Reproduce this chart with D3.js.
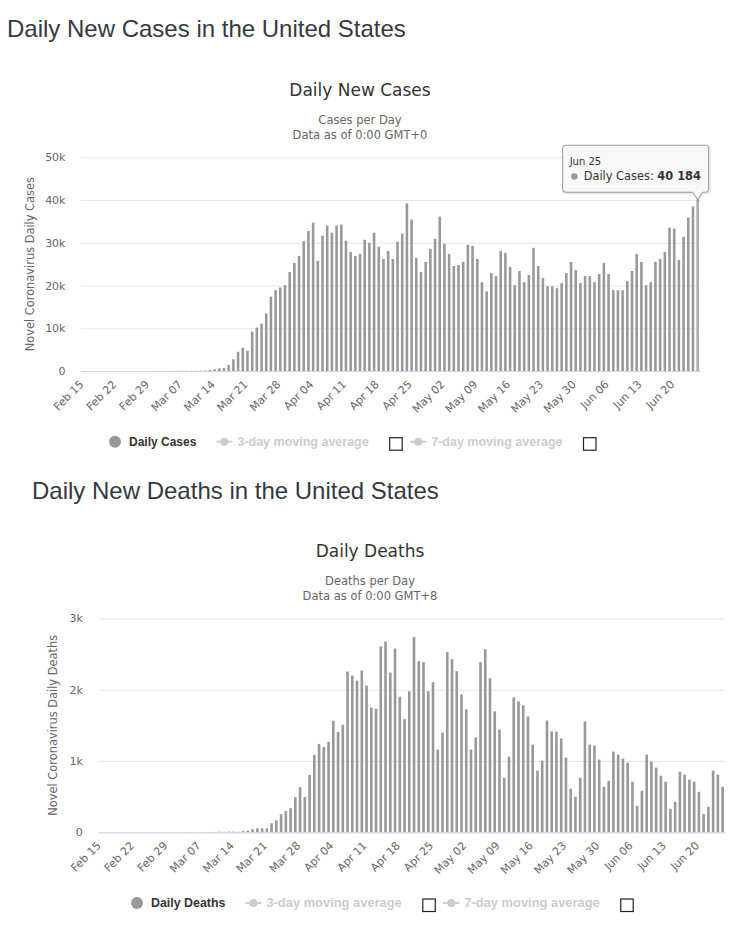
<!DOCTYPE html>
<html>
<head>
<meta charset="utf-8">
<script src="https://cdn.jsdelivr.net/npm/d3@7"></script>
<style>
body { margin: 0; background: #fff; }
svg { display: block; }
</style>
</head>
<body>
<svg id="svg" width="729" height="942"></svg>
<script>
var days = [
  "Feb 15","Feb 16","Feb 17","Feb 18","Feb 19","Feb 20","Feb 21","Feb 22","Feb 23","Feb 24","Feb 25","Feb 26","Feb 27","Feb 28","Feb 29",
  "Mar 01","Mar 02","Mar 03","Mar 04","Mar 05","Mar 06","Mar 07","Mar 08","Mar 09","Mar 10","Mar 11","Mar 12","Mar 13","Mar 14","Mar 15","Mar 16",
  "Mar 17","Mar 18","Mar 19","Mar 20","Mar 21","Mar 22","Mar 23","Mar 24","Mar 25","Mar 26","Mar 27","Mar 28","Mar 29","Mar 30","Mar 31",
  "Apr 01","Apr 02","Apr 03","Apr 04","Apr 05","Apr 06","Apr 07","Apr 08","Apr 09","Apr 10","Apr 11","Apr 12","Apr 13","Apr 14","Apr 15",
  "Apr 16","Apr 17","Apr 18","Apr 19","Apr 20","Apr 21","Apr 22","Apr 23","Apr 24","Apr 25","Apr 26","Apr 27","Apr 28","Apr 29","Apr 30",
  "May 01","May 02","May 03","May 04","May 05","May 06","May 07","May 08","May 09","May 10","May 11","May 12","May 13","May 14","May 15","May 16",
  "May 17","May 18","May 19","May 20","May 21","May 22","May 23","May 24","May 25","May 26","May 27","May 28","May 29","May 30","May 31",
  "Jun 01","Jun 02","Jun 03","Jun 04","Jun 05","Jun 06","Jun 07","Jun 08","Jun 09","Jun 10","Jun 11","Jun 12","Jun 13",
  "Jun 14","Jun 15","Jun 16","Jun 17","Jun 18","Jun 19","Jun 20","Jun 21","Jun 22","Jun 23","Jun 24","Jun 25"
];

var tickLabels = ["Feb 15","Feb 22","Feb 29","Mar 07","Mar 14","Mar 21","Mar 28","Apr 04","Apr 11","Apr 18",
  "Apr 25","May 02","May 09","May 16","May 23","May 30","Jun 06","Jun 13","Jun 20"];

var caseTicks = [0, 10000, 20000, 30000, 40000, 50000];
var deathTicks = [0, 1000, 2000, 3000];

var dailyCases = [
  0,0,0,0,0,0,0,2,0,0,0,0,1,0,3,
  3,12,9,21,26,38,44,51,67,73,81,96,
  240,400,630,700,1420,2760,4490,5430,4720,9210,
  10160,11100,13460,17400,18900,19530,20080,23150,25280,26930,
  30390,32760,34720,25750,31650,34020,32360,34020,34250,30470,
  27870,26930,27400,30710,30000,32360,29060,26220,28110,26220,
  30240,32130,39210,35430,26460,23150,25510,28580,30940,36140,
  29760,27400,24570,24800,25510,29530,29290,26220,20790,18660,
  22910,22200,28110,27640,24330,20080,23390,20790,22440,28820,
  24570,21730,19840,19840,19370,20550,22910,25510,23620,20550,
  22200,22200,20790,22680,25280,22680,18900,18900,18900,21020,
  23390,27400,25510,20080,20790,25510,26220,27870,33540,33310,
  25980,31420,35910,38500,40184
];

var dailyDeaths = [
  0,0,0,0,0,0,0,0,0,0,0,0,0,0,0,
  1,5,1,4,2,1,4,3,4,5,8,7,10,10,8,
  18,23,42,56,56,56,127,169,254,296,
  338,493,634,493,803,1085,1239,1197,1268,1563,
  1408,1507,2254,2197,2127,2268,2056,1746,1732,2606,
  2676,2239,2577,1901,1587,1977,2737,2399,2385,1977,
  2103,1160,1399,2526,2427,2258,1934,1723,1160,1329,
  2385,2568,2160,1695,1441,765,1061,1892,1836,1779,
  1624,1230,864,1005,1568,1413,1413,1315,1047,610,
  498,765,1554,1230,1216,1019,638,723,1131,1089,
  1033,977,709,371,582,1089,991,906,793,709,
  329,427,850,808,737,709,568,258,357,864,
  808,638
];

var svg = d3.select("#svg");
var chartFont = "'DejaVu Sans', Verdana, sans-serif";
var headFont = "'Liberation Sans', Arial, sans-serif";
var spaced = d3.formatLocale({decimal: ".", thousands: " ", grouping: [3], currency: ["", ""]}).format(",d");

// page headings
svg.append("text").attr("x", 7).attr("y", 36.7)
  .style("font", "24px " + headFont).attr("fill", "#343a40")
  .text("Daily New Cases in the United States");
svg.append("text").attr("x", 32).attr("y", 499)
  .style("font", "24px " + headFont).attr("fill", "#343a40")
  .text("Daily New Deaths in the United States");

function drawChart(c) {
  var g = svg.append("g");

  var xScale = d3.scaleBand().domain(days).range([c.left, c.right])
    .paddingInner(0.45).paddingOuter(0.225);
  var yScale = d3.scaleLinear().domain([0, c.ticks[c.ticks.length - 1]])
    .range([c.bottom, c.top]);

  // titles
  g.append("text").attr("x", c.center).attr("y", c.titleY).attr("text-anchor", "middle")
    .style("font", "17px " + chartFont).attr("fill", "#333").text(c.title);
  g.append("text").attr("x", c.center).attr("y", c.titleY + 28).attr("text-anchor", "middle")
    .style("font", "11.5px " + chartFont).attr("fill", "#666").text(c.sub1);
  g.append("text").attr("x", c.center).attr("y", c.titleY + 43).attr("text-anchor", "middle")
    .style("font", "11.5px " + chartFont).attr("fill", "#666").text(c.sub2);

  // grid lines
  var grid = g.append("g").attr("transform", "translate(" + c.left + ",0)")
    .call(d3.axisLeft(yScale).tickValues(c.ticks).tickSize(-(c.right - c.left)).tickFormat(""));
  grid.select(".domain").remove();
  grid.selectAll("line").attr("stroke", "#e6e6e6");

  // y labels
  var yAxis = g.append("g").attr("transform", "translate(" + c.left + ",0)")
    .call(d3.axisLeft(yScale).tickValues(c.ticks).tickSize(0).tickPadding(15.5)
      .tickFormat(function(d) { return d === 0 ? "0" : (d / 1000) + "k"; }));
  yAxis.select(".domain").remove();
  yAxis.selectAll("text").style("font", "11px " + chartFont).attr("fill", "#666");

  // y title
  g.append("text")
    .attr("transform", "translate(" + c.yTitleX + "," + ((c.top + c.bottom) / 2) + ") rotate(-90)")
    .attr("text-anchor", "middle").style("font", "11.4px " + chartFont).attr("fill", "#666")
    .text(c.yTitle);

  // bars
  g.append("g").selectAll("rect").data(c.values).enter()
    .append("rect")
    .attr("x", function(d, i) { return xScale(days[i]); })
    .attr("width", xScale.bandwidth())
    .attr("y", function(d) { return yScale(d); })
    .attr("height", function(d) { return c.bottom - yScale(d); })
    .attr("fill", function(d, i) { return (c.tooltip && i === c.values.length - 1) ? "#ababab" : "#999"; });

  // x axis
  var xAxis = g.append("g").attr("transform", "translate(0," + c.bottom + ")")
    .call(d3.axisBottom(xScale).tickValues(tickLabels).tickSize(0).tickSizeOuter(0));
  xAxis.select(".domain").attr("stroke", "#ccd6eb");
  xAxis.selectAll("text")
    .attr("y", 0).attr("dy", 0)
    .attr("transform", "translate(1,14) rotate(-45)")
    .attr("text-anchor", "end")
    .style("font", "11px " + chartFont).attr("fill", "#666");

  // legend
  var leg = g.append("g").attr("transform", "translate(" + c.legendLeft + "," + c.legendY + ")");
  leg.append("circle").attr("cx", 6).attr("cy", 0).attr("r", 6).attr("fill", "#999");
  var t1 = leg.append("text").attr("x", 20).attr("y", 4.3).style("font", "bold " + c.legendSize + "px " + headFont)
    .attr("fill", "#333").text(c.series);
  var x = 20 + t1.node().getComputedTextLength() + 20;
  ["3-day moving average", "7-day moving average"].forEach(function(name, k) {
    if (k > 0) x += 8;
    leg.append("line").attr("x1", x).attr("x2", x + 16).attr("y1", 0).attr("y2", 0)
      .attr("stroke", "#ccc").attr("stroke-width", 2);
    leg.append("circle").attr("cx", x + 8).attr("cy", 0).attr("r", 4).attr("fill", "#ccc");
    var t = leg.append("text").attr("x", x + 21).attr("y", 4.3)
      .style("font", "bold " + (c.legendSize + 0.5) + "px " + headFont)
      .attr("fill", "#ccc").text(name);
    x += 21 + t.node().getComputedTextLength() + 21;
    leg.append("rect").attr("x", x).attr("y", -4).attr("width", 12.5).attr("height", 12.5)
      .attr("fill", "#fff").attr("stroke", "#222").attr("stroke-width", 1.2);
    x += 12.5;
  });

  // tooltip on last point
  if (c.tooltip) {
    var li = c.values.length - 1;
    var ax = xScale(days[li]) + xScale.bandwidth() / 2;
    var ay = yScale(c.values[li]);
    var L = ax - 135, R = ax + 11, T = ay - 54, B = ay - 7, r = 3;
    var p = "M" + (L + r) + "," + T + "H" + (R - r) + "Q" + R + "," + T + " " + R + "," + (T + r) +
      "V" + (B - r) + "Q" + R + "," + B + " " + (R - r) + "," + B +
      "H" + (ax + 5) + "L" + ax + "," + ay + "L" + (ax - 5) + "," + B +
      "H" + (L + r) + "Q" + L + "," + B + " " + L + "," + (B - r) +
      "V" + (T + r) + "Q" + L + "," + T + " " + (L + r) + "," + T + "Z";
    var tip = g.append("g");
    tip.append("path").attr("d", p).attr("transform", "translate(1,1)")
      .attr("fill", "none").attr("stroke", "#000").attr("stroke-opacity", 0.08).attr("stroke-width", 3);
    tip.append("path").attr("d", p).attr("fill", "rgba(247,247,247,0.9)").attr("stroke", "#999");
    tip.append("text").attr("x", L + 7).attr("y", T + 19.5).style("font", "10px " + chartFont)
      .attr("fill", "#333").text(days[li]);
    tip.append("circle").attr("cx", L + 11.7).attr("cy", T + 31.3).attr("r", 3.3).attr("fill", "#999");
    var tt = tip.append("text").attr("x", L + 21).attr("y", T + 35).style("font", "11.4px " + chartFont)
      .attr("fill", "#333");
    tt.append("tspan").text(c.series + ": ");
    tt.append("tspan").style("font-weight", "bold").text(spaced(c.values[li]));
  }
}

drawChart({
  left: 81, right: 700, top: 157.3, bottom: 371, center: 360, titleY: 95.7,
  title: "Daily New Cases", sub1: "Cases per Day", sub2: "Data as of 0:00 GMT+0",
  yTitle: "Novel Coronavirus Daily Cases", yTitleX: 33.5,
  values: dailyCases, ticks: caseTicks, series: "Daily Cases",
  legendLeft: 109, legendY: 441.7, legendSize: 12, tooltip: true
});

drawChart({
  left: 98.3, right: 725, top: 618.3, bottom: 832.3, center: 370, titleY: 557,
  title: "Daily Deaths", sub1: "Deaths per Day", sub2: "Data as of 0:00 GMT+8",
  yTitle: "Novel Coronavirus Daily Deaths", yTitleX: 57,
  values: dailyDeaths, ticks: deathTicks, series: "Daily Deaths",
  legendLeft: 131, legendY: 903, legendSize: 12.4, tooltip: false
});
</script>
</body>
</html>
